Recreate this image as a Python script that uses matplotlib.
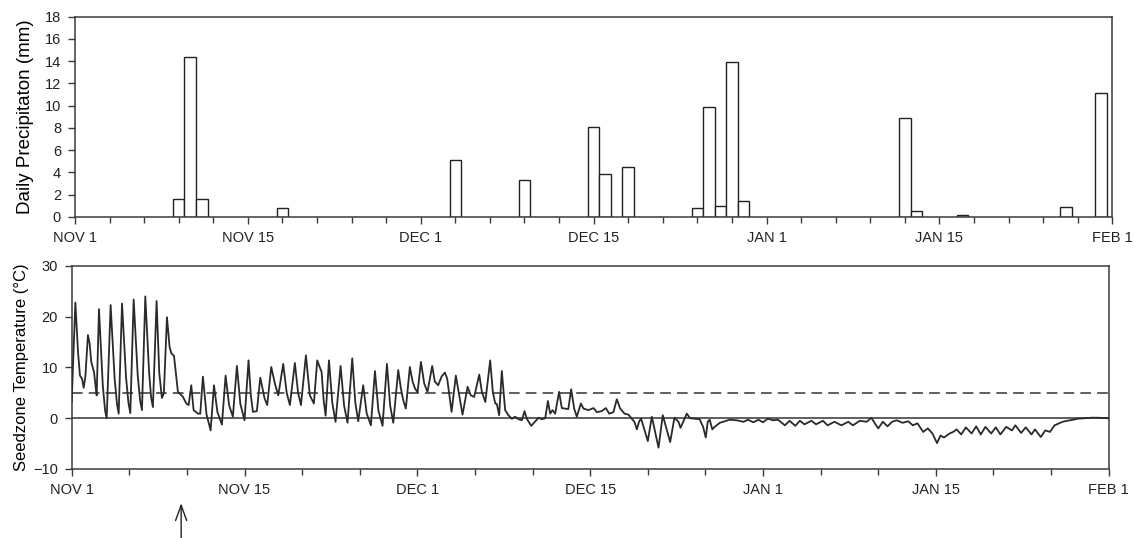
import matplotlib
matplotlib.use("Agg")
import matplotlib.pyplot as plt
from matplotlib.ticker import MultipleLocator

plt.rcParams["font.family"] = ["Liberation Sans", "DejaVu Sans"]

# days after Nov 1 (axis units), daily precipitation in mm
rain_day = [9, 10, 11, 18, 33, 39, 45, 46, 48, 54, 55, 56, 57, 58, 72, 73, 77, 86, 89]
rain_mm = [1.6, 14.4, 1.6, 0.8, 5.1, 3.35, 8.1, 3.85, 4.5, 0.85, 9.85, 1.0, 13.9,
           1.45, 8.85, 0.55, 0.2, 0.9, 11.1]

# seedzone temperature trace (rows line up)
temp_day = [
    0.0, 0.32, 0.55, 0.72, 0.9, 1.04, 1.19, 1.41, 1.56, 1.7, 1.94, 2.05, 2.17, 2.37, 2.7, 2.9, 3.04,
    3.38, 3.73, 3.93, 4.08, 4.37, 4.72, 4.93, 5.09, 5.38, 5.73, 5.94, 6.1, 6.39, 6.72, 6.9, 7.05, 7.37, 7.6, 7.83, 8.0,
    8.27, 8.5, 8.65, 8.88, 9.0, 9.22, 9.66, 9.95, 10.15, 10.38, 10.58, 10.96, 11.16,
    11.39, 11.7, 12.06, 12.35, 12.65, 13.04, 13.36, 13.66, 13.99, 14.34, 14.64, 15.0, 15.35, 15.55, 15.73, 16.07,
    16.37, 16.74, 16.97, 17.32, 17.64, 17.93, 18.36, 18.66, 18.94, 19.37, 19.65, 19.9, 20.33, 20.67, 21.02,
    21.31, 21.69, 21.87, 22.04, 22.33, 22.62, 22.9, 23.34, 23.64, 23.94, 24.35, 24.62, 24.87,
    25.3, 25.6, 25.97, 26.32, 26.62, 26.98, 27.36, 27.64, 27.91,
    28.34, 28.57, 28.77, 29.0, 29.35, 29.59, 29.79, 30.02, 30.31, 30.6, 30.88, 31.29, 31.52, 31.81, 32.1, 32.39, 32.59,
    32.97, 33.34, 33.92, 34.36, 34.64, 34.93, 35.37, 35.6, 35.9, 36.32, 36.55, 36.76, 36.9, 37.1, 37.33,
    37.62, 37.9, 38.2, 38.49, 38.78, 39.07, 39.3, 39.5, 39.88, 40.2, 40.52, 40.81, 41.1,
    41.33, 41.53, 41.73, 41.96, 42.3, 42.54, 42.83, 43.1, 43.35, 43.61, 43.84, 44.19, 44.42, 44.85,
    45.29, 45.58, 46.0, 46.36, 46.65, 47.02, 47.31, 47.6, 47.98, 48.33, 48.61, 48.84,
    49.05, 49.25, 49.42, 50.0, 50.35, 50.93, 51.3, 51.94, 52.31, 52.66, 52.84, 53.38, 53.67,
    54.5, 54.8, 55.03, 55.2, 55.37, 55.6, 55.8, 56.25, 56.8, 57.1, 57.7, 58.3,
    58.7, 59.15, 59.6, 60.0, 60.4, 60.9, 61.3, 61.9, 62.3, 62.8, 63.2, 63.6,
    64.2, 64.6, 65.2, 65.6, 66.2, 66.8, 67.4, 67.8, 68.4, 69.0, 69.4, 69.7,
    70.0, 70.4, 70.8, 71.2, 71.6, 72.1, 72.6, 73.0, 73.4, 73.9, 74.3, 74.7,
    75.1, 75.4, 75.7, 76.2, 76.5, 76.8, 77.2, 77.6, 78.1, 78.5, 78.9, 79.3,
    79.8, 80.2, 80.6, 81.1, 81.6, 81.9, 82.4, 82.8, 83.3, 83.6, 84.1, 84.5,
    84.9, 85.3, 85.7, 86.0, 86.4, 86.9, 87.3, 87.9, 88.5, 89.0, 89.9, 90.0,
]
temp_c = [
    3.3, 22.8, 13.1, 8.4, 7.8, 6.0, 8.2, 16.4, 14.7, 11.1, 9.1, 6.8, 4.5, 21.5, 6.5, 1.5, 0.0,
    22.3, 7.8, 2.9, 0.9, 22.6, 8.0, 3.0, 1.0, 23.4, 8.5, 3.5, 1.6, 24.0, 9.0, 4.0, 2.2, 23.1, 9.0, 4.0, 4.9,
    19.9, 14.0, 12.8, 12.3, 9.8, 5.2, 4.2, 2.9, 2.6, 6.5, 1.6, 0.9, 0.9,
    8.2, 0.8, -2.4, 6.5, 1.2, -1.25, 8.4, 2.6, 0.3, 10.3, 2.8, -0.4, 11.4, 4.5, 1.25, 1.4,
    8.0, 3.9, 2.6, 10.1, 6.8, 4.5, 10.7, 5.0, 2.6, 10.9, 5.0, 2.6, 12.4, 4.5, 2.9,
    11.4, 9.1, 3.5, 0.5, 11.4, 3.0, -0.7, 10.3, 2.5, -0.9, 11.8, 3.0, -0.6,
    6.5, 1.0, -1.4, 9.3, 1.5, -1.5, 10.7, 2.5, -0.9,
    9.5, 5.9, 3.6, 1.9, 10.1, 7.2, 5.9, 5.1, 11.1, 6.8, 5.2, 10.3, 7.2, 6.5, 8.2, 9.0, 7.8,
    1.25, 8.4, 0.7, 6.2, 4.5, 4.2, 8.6, 5.2, 3.2, 11.4, 5.2, 2.9, 2.8, 0.6, 9.3,
    1.6, 0.6, -0.1, 0.3, -0.2, -0.4, 1.4, -0.1, -1.5, -0.7, 0.1, -0.2, 0.0,
    3.4, 0.9, 1.6, 0.9, 5.2, 2.0, 1.9, 1.8, 5.7, 1.9, 0.3, 2.9, 1.9, 1.6,
    2.0, 1.2, 1.4, 2.0, 0.9, 1.2, 3.75, 1.9, 0.9, 0.7, -0.1, -0.7,
    -2.2, -0.6, -0.1, -4.5, 0.3, -5.8, 0.6, -4.7, 0.1, -0.7, -1.9, 0.9, 0.0,
    -0.2, -1.7, -3.8, -0.7, -0.3, -2.2, -1.7, -0.9, -0.5, -0.3, -0.4, -0.7,
    -0.3, -0.8, -0.3, -0.8, -0.1, -0.4, -0.3, -1.4, -0.5, -1.5, -0.5, -1.2,
    -0.5, -1.2, -0.5, -1.4, -0.7, -1.4, -0.7, -1.4, -0.5, -0.7, 0.1, -1.0,
    -2.0, -0.7, -1.6, -0.7, -0.4, -0.9, -0.6, -1.4, -1.0, -2.7, -2.0, -3.0,
    -4.9, -3.4, -3.8, -3.0, -2.7, -2.2, -3.2, -1.8, -3.0, -1.6, -3.2, -1.7,
    -3.0, -1.8, -3.2, -1.7, -2.4, -1.4, -2.9, -1.8, -3.2, -2.2, -3.7, -2.4,
    -2.7, -1.4, -1.0, -0.7, -0.5, -0.3, -0.1, 0.0, 0.1, 0.1, 0.0, 0.0,
]

date_ticks = [0, 15, 30, 45, 60, 75, 90]
date_labels = ["NOV 1", "NOV 15", "DEC 1", "DEC 15", "JAN 1", "JAN 15", "FEB 1"]
threshold = 5
arrow_day = 9.5

edge = "#3a3a3a"
tick_size = 10.5

fig = plt.figure(figsize=(11.34, 5.38), dpi=100)
ax1 = fig.add_axes([0.0661, 0.5967, 0.9148, 0.3723])
ax2 = fig.add_axes([0.0632, 0.1283, 0.9145, 0.3773])

# precipitation bars
ax1.bar(rain_day, rain_mm, width=1.0, color="white", edgecolor="#222222",
        linewidth=1.0, zorder=2)
ax1.set_xlim(0, 90)
ax1.set_ylim(0, 18)
ax1.set_yticks(range(0, 19, 2))
ax1.xaxis.set_minor_locator(MultipleLocator(3))
ax1.set_ylabel("Daily Precipitaton (mm)", fontsize=13.5, labelpad=8)

# temperature trace
ax2.plot(temp_day, temp_c, color="#2a2a2a", lw=1.3, zorder=3)
ax2.axhline(0, color="#333333", lw=1.1, zorder=2)
ax2.axhline(threshold, color="#333333", lw=1.1, ls=(0, (7, 4)), zorder=2)
ax2.set_xlim(0, 90)
ax2.set_ylim(-10, 30)
ax2.set_yticks([-10, 0, 10, 20, 30])
ax2.xaxis.set_minor_locator(MultipleLocator(5))
ax2.set_ylabel("Seedzone Temperature (\u00b0C)", fontsize=12, labelpad=3)

for ax in (ax1, ax2):
    ax.set_xticks(date_ticks, labels=date_labels)
    for sp in ax.spines.values():
        sp.set_color(edge)
        sp.set_linewidth(1.1)
    ax.tick_params(which="both", direction="out", color=edge, width=1.0,
                   labelsize=tick_size, labelcolor="#222222")
    ax.tick_params(which="major", length=5, pad=5)
    ax.tick_params(which="minor", length=4)

# planting date marker below the axis
ax2.annotate("", xy=(arrow_day, -0.155), xycoords=("data", "axes fraction"),
             xytext=(arrow_day, -0.36), textcoords=("data", "axes fraction"),
             arrowprops=dict(arrowstyle="->,head_length=1.1,head_width=0.4",
                             color="#222222", lw=1.0))

fig.savefig("out.png", dpi=100)
